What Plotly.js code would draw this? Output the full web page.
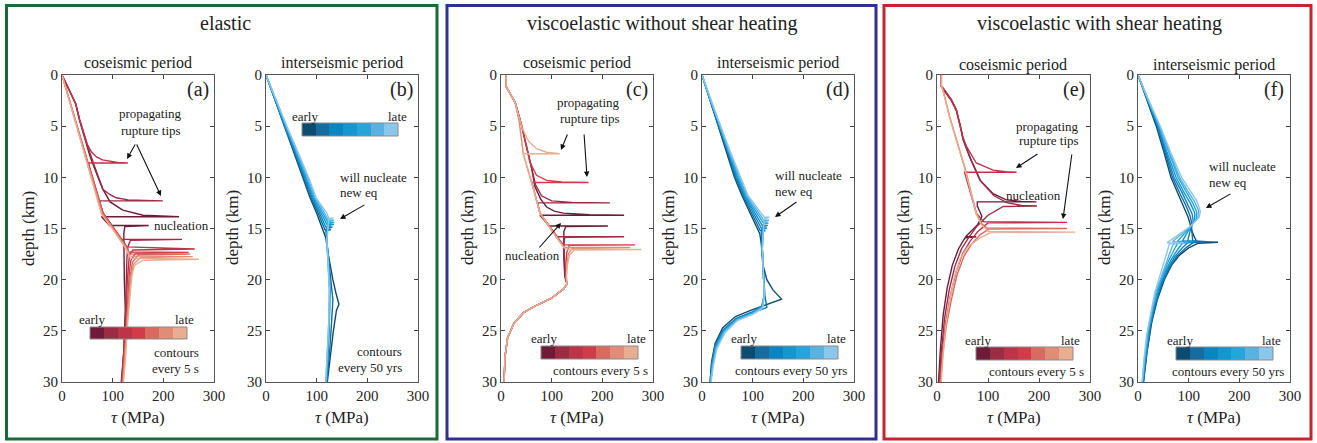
<!DOCTYPE html>
<html><head><meta charset="utf-8">
<script src="https://cdn.plot.ly/plotly-3.0.1.min.js"></script>
<style>html,body{margin:0;padding:0;background:#fff}#chart{width:1317px;height:443px}</style>
</head><body><div id="chart"></div>
<script>
// ---------------- colours ----------------
const REDS  = ['#6e1a38','#9b2c44','#bb3448','#d13c4a','#d96a5e','#e08c77','#e9ae92'];
const BLUES = ['#0d4c70','#176c9f','#0a85c4','#1496d0','#24a5dc','#5ab2e0','#8bc7ea'];

// ---------------- axes ticks ----------------
const tauTicks   = [0, 100, 200, 300];
const depthTicks = [0, 5, 10, 15, 20, 25, 30];

// ---------------- panel (a): elastic, coseismic ----------------
const aColor = [0, 1, 2, 3, 4, 5, 6];
const aTau = [
  [0,10,20,27,35,45,55,68,80,95,120,160,231,78,94,171,124,122,122,123,125,122,117],
  [0,10,20,27,35,45,55,64,73,81,95,107,130,160,199,73,81,96,117,237,135,130,128,127,125,121,118],
  [0,10,20,27,35,42,49,58,68,80,94,110,130,52,81,105,128,262,140,133,131,129,126,121,118],
  [0,81,105,128,131,250,145,136,133,131,128,122,119],
  [0,80,104,127,133,253,150,139,135,132,128,123,120],
  [0,79,103,126,134,258,155,141,136,133,129,124,121],
  [0,78,102,125,135,270,160,143,138,134,130,125,121]
];
const aDepth = [
  [0,1,2.1,2.8,4.5,6.2,7.9,9.6,11.1,12.4,13.2,13.7,13.85,13.85,14.7,14.7,14.8,15.5,18,20,23,27,30],
  [0,1,2.1,2.8,4.4,6.1,7.6,8.9,10.1,11.2,11.7,12.0,12.2,12.25,12.3,12.3,13.5,14.55,16.06,16.06,16.15,16.8,18,20,24,28,30],
  [0,1,2.1,2.8,4.4,5.6,6.7,7.5,8.0,8.3,8.45,8.55,8.6,8.6,13.5,15.15,16.8,17.0,17.1,17.6,18.5,20,24,28,30],
  [0,13.5,15.15,16.8,17.3,17.35,17.45,18.1,19.2,21,24,28,30],
  [0,13.5,15.15,16.8,17.5,17.5,17.6,18.3,19.5,21,24,28,30],
  [0,13.6,15.2,16.9,17.7,17.75,17.85,18.5,19.7,21.2,24,28,30],
  [0,13.6,15.2,16.9,17.9,18.0,18.1,18.6,19.6,21.5,24,28,30]
];

// ---------------- panel (b): elastic, interseismic ----------------
const bColor = [0, 1, 2, 3, 4, 5, 6];
const bTau = [
  [0,18,36,55,72,87,100,110,116,118,121,126,132,138,144,139,133,127,121],
  [0,18,37,56,74,89,102,111,116,128,118,120,124,128,132,129,125,120],
  [0,18,37,57,76,91,104,113,118,131,120,120,124,126,125,122,119],
  [0,19,38,58,78,93,106,115,120,134,121,120,124,126,125,122,119],
  [0,19,39,60,80,95,108,117,122,135,122,120,123,126,125,122,119],
  [0,20,40,61,82,97,110,118,123,134,123,120,123,125,124,121,118],
  [0,20,41,63,84,99,112,120,124,133,124,120,123,125,124,121,118]
];
const bDepth = [
  [0,2.5,5,7.5,10,12,13.5,14.8,15.5,15.9,17,18.5,20,21.3,22.4,23,25,27.5,30],
  [0,2.5,5,7.5,10,12,13.4,14.5,15.1,15.1,15.25,16.2,18,20,22,24.5,27.5,30],
  [0,2.5,5,7.5,10,12,13.3,14.3,14.85,14.85,15.0,16.2,18.5,21,24,27.5,30],
  [0,2.5,5,7.5,10,12,13.2,14.1,14.6,14.6,14.75,16.2,18.5,21,24,27.5,30],
  [0,2.5,5,7.5,10,12,13.1,13.9,14.4,14.4,14.55,16.2,18.5,21,24,27.5,30],
  [0,2.5,5,7.5,10,12,13.0,13.7,14.2,14.2,14.35,16.2,18.5,21,24,27.5,30],
  [0,2.5,5,7.5,10,12,12.9,13.5,14.0,14.0,14.15,16.2,18.5,21,24,27.5,30]
];

// ---------------- panel (c): viscoelastic w/o heating, coseismic ----------------
const cColor = [0, 1, 3, 5, 6];
const cTau = [
  [10,10,12,22,28,40,51,60,67,78,90,105,123,175,243,77,95,211,128,124,124,126,130,124,100,70,45,25,13,8,6],
  [10,10,12,22,28,40,51,60,68,80,100,140,215,72,77,110,243,126,124,125,127,130,124,100,70,45,25,13,8,6],
  [10,10,12,22,28,40,48,57,70,90,120,173,61,77,105,123,265,135,130,128,128,130,124,100,70,45,25,13,8,6],
  [10,10,12,22,28,36,44,60,77,100,122,128,255,140,133,130,129,130,124,100,70,45,25,13,8,6],
  [10,10,12,22,28,35,42,55,70,90,116,44,77,123,130,277,145,135,131,129,130,124,100,70,45,25,13,8,6]
];
const cDepth = [
  [0,1.1,1.3,2.1,2.7,4.8,7.0,9.0,10.9,12.1,12.9,13.3,13.5,13.65,13.7,13.7,14.75,14.75,14.8,15.3,18,19.7,20.4,20.9,21.8,22.5,23.2,24.3,25.7,27.5,30],
  [0,1.1,1.3,2.1,2.7,4.8,7.0,9.0,10.7,11.8,12.3,12.45,12.5,12.5,13.5,15.8,15.8,15.85,16.5,18,19.7,20.4,20.9,21.8,22.5,23.2,24.3,25.7,27.5,30],
  [0,1.1,1.3,2.1,2.7,4.8,6.5,8.5,9.8,10.3,10.45,10.5,10.5,13.5,15.4,16.6,16.6,16.65,17.3,18.5,19.7,20.4,20.9,21.8,22.5,23.2,24.3,25.7,27.5,30],
  [0,1.1,1.3,2.1,2.7,4.6,7.7,10.4,13.5,15.2,16.7,16.85,16.85,16.95,17.5,18.5,19.7,20.4,20.9,21.8,22.5,23.2,24.3,25.7,27.5,30],
  [0,1.1,1.3,2.1,2.7,4.0,5.2,6.5,7.2,7.55,7.7,7.7,13.5,16.8,17.05,17.05,17.1,17.6,18.6,19.7,20.4,20.9,21.8,22.5,23.2,24.3,25.7,27.5,30]
];

// ---------------- panel (d): viscoelastic w/o heating, interseismic ----------------
const dColor = [0, 1, 2, 3, 4, 5, 6];
const dTau = [
  [0,16,33,49,64,79,94,106,114,117,120,128,140,157,140,118,96,66,41,26,19,16],
  [0,16,33,50,66,81,96,108,115,125,117,119,121,124,128,119,97,67,42,26,19,16],
  [0,16,34,51,68,83,98,110,117,128,118,119,121,123,118,98,68,43,27,20,17],
  [0,17,34,52,70,85,100,112,119,130,120,119,121,123,118,98,68,43,27,20,17],
  [0,17,35,53,72,87,102,114,121,131,121,119,121,123,119,99,69,44,28,21,17],
  [0,17,36,54,74,89,104,116,122,132,122,119,121,123,119,99,69,44,28,21,17],
  [0,18,37,56,76,91,106,118,123,133,123,119,121,123,120,100,70,45,29,22,18]
];
const dDepth = [
  [0,2.5,5,7.5,10,11.8,13.4,14.7,15.5,16.5,18.5,20,21,21.9,22.2,22.6,23.0,23.6,24.7,26.2,28,30],
  [0,2.5,5,7.5,10,11.8,13.3,14.6,15.2,15.2,15.35,17,19.5,21.5,22.7,22.9,23.2,23.8,24.9,26.4,28.2,30],
  [0,2.5,5,7.5,10,11.8,13.2,14.4,14.95,14.95,15.1,17,19.5,21.5,22.6,23.2,23.8,24.9,26.4,28.2,30],
  [0,2.5,5,7.5,10,11.8,13.1,14.2,14.7,14.7,14.85,17,19.5,21.5,22.6,23.25,23.85,24.95,26.5,28.3,30],
  [0,2.5,5,7.5,10,11.8,13.0,14.0,14.45,14.45,14.6,17,19.5,21.5,22.7,23.3,23.9,25.0,26.6,28.4,30],
  [0,2.5,5,7.5,10,11.8,12.9,13.8,14.2,14.2,14.35,17,19.5,21.5,22.7,23.35,23.95,25.1,26.7,28.5,30],
  [0,2.5,5,7.5,10,11.8,12.8,13.5,13.9,13.9,14.05,17,19.5,21.5,22.8,23.4,24.0,25.2,26.8,28.5,30]
];

// ---------------- panel (e): viscoelastic with heating, coseismic ----------------
const eColor = [0, 1, 2, 4, 6];
const eTau = [
  [8.5,8.5,12,28,38,44.5,46,51,64,84,110,136,165,195,79,79,88,80,66,56,77,55,42,30,20,12,6.5,3],
  [8.5,8.5,12,28,38,44,47,53,66,86,112,138,166,196,130,100,78,62,48,35,24,15,8.5,4],
  [8.5,8.5,12,28,38,44.5,50,58,77,110,135,156,54,77,92,255,100,80,64,50,37,26,17,10,5.5],
  [8.5,8.5,12,25,56,77,87,98,255,102,85,68,53,39,28,18,11,6.5],
  [8.5,8.5,12,25,56,77,87,101,271,105,85,60,45,34,25,17,12,8.5]
];
const eDepth = [
  [0,1.1,1.3,2.4,3.4,4.7,5.0,6.3,8.0,10.25,11.6,12.2,12.35,12.4,12.4,12.8,13.8,14.6,15.3,15.8,15.8,15.9,17,18.6,20.8,23.5,26.9,30],
  [0,1.1,1.4,2.5,3.5,4.7,5.1,6.5,8.2,10.4,11.8,12.5,12.75,12.8,12.85,13.7,14.8,15.9,17.0,18.7,21.0,23.7,27,30],
  [0,1.1,1.3,2.4,3.4,4.7,6.0,7.0,8.6,9.3,9.45,9.5,9.5,13.5,14.35,14.4,14.45,15.3,16.3,17.5,19.3,21.6,24.2,27.2,30],
  [0,1.0,1.5,4.1,9.3,13.5,14.5,14.95,15.0,15.05,15.6,16.5,17.7,19.6,22,24.6,27.5,30],
  [0,1.0,1.6,4.2,9.4,13.6,14.6,15.3,15.35,15.4,15.9,16.8,18.0,19.8,22,24.6,27.3,30]
];

// ---------------- panel (f): viscoelastic with heating, interseismic ----------------
const fColor = [0, 1, 2, 3, 4, 5, 6];
const fTau = [
  [0,18,36,51,65,79,91,99,103,106,112,116,158,118,100,82,66,52,38,27,18,11],
  [0,19,38,53,68,83,95,103,106,106,108,135,108,94,77,62,48,35,25,17,10.5],
  [0,19,39,55,71,87,99,107,109,104,98,118,98,87,72,58,45,33,23,16,10],
  [0,20,40,57,75,91,104,112,112,103,88,108,88,79,66,54,42,31,22,15,9.5],
  [0,20,42,60,79,95,108,116,115,103,78,100,78,72,61,50,39,29,20,14,9],
  [0,21,43,62,82,99,112,120,118,103,68,95,70,65,56,46,36,27,19,13,8.5],
  [0,21,44,64,86,103,116,123,121,103,57,90,62,58,50,42,33,25,17,12,8]
];
const fDepth = [
  [0,2.5,5,7.5,10,11.6,12.9,13.9,14.6,15.2,15.9,16.3,16.35,16.45,16.9,17.6,18.6,20,22,24.2,27,30],
  [0,2.5,5,7.5,10,11.6,12.8,13.8,14.5,15.1,16.2,16.3,16.4,16.9,17.7,18.8,20.3,22.3,24.5,27.2,30],
  [0,2.5,5,7.5,10,11.5,12.7,13.6,14.3,15.0,16.2,16.3,16.4,16.9,17.8,19.0,20.5,22.5,24.7,27.3,30],
  [0,2.5,5,7.5,10,11.5,12.6,13.5,14.2,14.9,16.2,16.3,16.4,17.0,18.0,19.2,20.7,22.7,24.9,27.4,30],
  [0,2.5,5,7.5,10,11.4,12.5,13.4,14.1,14.85,16.25,16.35,16.45,17.0,18.1,19.4,20.9,22.9,25.0,27.5,30],
  [0,2.5,5,7.5,10,11.4,12.4,13.3,14.0,14.8,16.3,16.4,16.5,17.1,18.3,19.6,21.1,23.1,25.2,27.6,30],
  [0,2.5,5,7.5,10,11.3,12.3,13.3,13.9,14.8,16.4,16.4,16.5,17.2,18.4,19.8,21.3,23.3,25.4,27.7,30]
];

// ---------------- text ----------------
const groupTitles = ['elastic', 'viscoelastic without shear heating', 'viscoelastic with shear heating'];
const panelLetters = ['(a)', '(b)', '(c)', '(d)', '(e)', '(f)'];
const periodTitles = ['coseismic period', 'interseismic period'];

// ================= layout helpers =================
const W = 1317, H = 443;
const FONT = '"Liberation Serif", "Times New Roman", serif';
const TXT = '#222';
const fx = p => p / W;
const fy = p => 1 - p / H;

const panels = [
  {tau: aTau, dep: aDepth, col: aColor, pal: REDS,  x0: 62,   x1: 214,  cb: [90, 187, 327, 339]},
  {tau: bTau, dep: bDepth, col: bColor, pal: BLUES, x0: 266,  x1: 418,  cb: [302, 398, 123, 136]},
  {tau: cTau, dep: cDepth, col: cColor, pal: REDS,  x0: 501,  x1: 653,  cb: [541, 638, 346, 359]},
  {tau: dTau, dep: dDepth, col: dColor, pal: BLUES, x0: 702,  x1: 854,  cb: [741, 838, 346, 359]},
  {tau: eTau, dep: eDepth, col: eColor, pal: REDS,  x0: 937,  x1: 1090, cb: [976, 1073, 347, 360]},
  {tau: fTau, dep: fDepth, col: fColor, pal: BLUES, x0: 1138, x1: 1290, cb: [1176, 1273, 347, 360]}
];
const plotTop = 75, plotBot = 382;

const traces = [];
const layout = {
  width: W, height: H, margin: {l: 0, r: 0, t: 0, b: 0},
  paper_bgcolor: '#fff', plot_bgcolor: '#fff', showlegend: false,
  font: {family: FONT, color: TXT},
  shapes: [], annotations: []
};

panels.forEach((p, i) => {
  const n = i + 1, s = n === 1 ? '' : String(n);
  layout['xaxis' + s] = {
    domain: [fx(p.x0), fx(p.x1)], range: [0, 300], anchor: 'y' + s,
    tickvals: tauTicks, ticks: 'inside', ticklen: 4, tickcolor: '#444',
    mirror: 'ticks', showline: true, linecolor: '#555', linewidth: 1,
    showgrid: false, zeroline: false, fixedrange: true,
    tickfont: {family: FONT, size: 15, color: TXT}
  };
  layout['yaxis' + s] = {
    domain: [fy(plotBot), fy(plotTop)], range: [30, 0], anchor: 'x' + s,
    tickvals: depthTicks, ticks: 'inside', ticklen: 4, tickcolor: '#444',
    mirror: 'ticks', showline: true, linecolor: '#555', linewidth: 1,
    showgrid: false, zeroline: false, fixedrange: true,
    tickfont: {family: FONT, size: 15, color: TXT}
  };
  // lines: darker first so lighter (later) profiles lie on top
  for (let k = 0; k < p.tau.length; k++) {
    traces.push({
      type: 'scatter', mode: 'lines', x: p.tau[k], y: p.dep[k],
      xaxis: 'x' + s, yaxis: 'y' + s, hoverinfo: 'skip',
      line: {color: p.pal[p.col[k]], width: 1.4}
    });
  }
  // colour key
  const m = n + 6;
  const cs = [];
  p.pal.forEach((c, j) => { cs.push([j / p.pal.length, c]); cs.push([(j + 1) / p.pal.length, c]); });
  layout['xaxis' + m] = {domain: [fx(p.cb[0]), fx(p.cb[1])], range: [-0.5, p.pal.length - 0.5], anchor: 'y' + m, visible: false, fixedrange: true};
  layout['yaxis' + m] = {domain: [fy(p.cb[3]), fy(p.cb[2])], range: [-0.5, 0.5], anchor: 'x' + m, visible: false, fixedrange: true};
  traces.push({
    type: 'heatmap', z: [p.pal.map((c, j) => j)], xaxis: 'x' + m, yaxis: 'y' + m,
    colorscale: cs, zmin: -0.5, zmax: p.pal.length - 0.5, showscale: false, hoverinfo: 'skip'
  });
  layout.shapes.push({type: 'rect', xref: 'x' + m + ' domain', yref: 'y' + m + ' domain',
    x0: 0, x1: 1, y0: 0, y1: 1, line: {color: '#8a8a8a', width: 1}});

  // panel letter, period title, axis titles
  const cx = (p.x0 + p.x1) / 2;
  const ann = layout.annotations;
  ann.push({text: panelLetters[i], xref: 'paper', yref: 'paper', x: fx(p.x1 - 16), y: fy(89), showarrow: false,
    font: {size: 20, family: FONT, color: TXT}, xanchor: 'center', yanchor: 'middle'});
  ann.push({text: periodTitles[i % 2], xref: 'paper', yref: 'paper', x: fx(cx - 0.5), y: fy(i >= 4 ? 65 : 63), showarrow: false,
    font: {size: 16, family: FONT, color: TXT}, xanchor: 'center', yanchor: 'middle'});
  ann.push({text: 'depth (km)', xref: 'paper', yref: 'paper', x: fx(p.x0 - 34), y: fy(228), textangle: -90, showarrow: false,
    font: {size: 17, family: FONT, color: TXT}, xanchor: 'center', yanchor: 'middle'});
  ann.push({text: '<i>τ</i> (MPa)', xref: 'paper', yref: 'paper', x: fx(cx), y: fy(417), showarrow: false,
    font: {size: 17, family: FONT, color: TXT}, xanchor: 'center', yanchor: 'middle'});
});

// group frames & titles
const frames = [
  {x0: 6.5, x1: 437, color: '#1b6b38', title: groupTitles[0], cx: 225},
  {x0: 447, x1: 876, color: '#2e3192', title: groupTitles[1], cx: 662},
  {x0: 884, x1: 1311, color: '#c1272d', title: groupTitles[2], cx: 1099}
];
frames.forEach(f => {
  layout.shapes.push({type: 'rect', xref: 'paper', yref: 'paper', x0: fx(f.x0), x1: fx(f.x1), y0: fy(439), y1: fy(5.5),
    line: {color: f.color, width: 3}});
  layout.annotations.push({text: f.title, xref: 'paper', yref: 'paper', x: fx(f.cx), y: fy(23), showarrow: false,
    font: {size: 20, family: FONT, color: TXT}, xanchor: 'center', yanchor: 'middle'});
});

// free text labels  [text, px, py, anchor]
const labels = [
  ['propagating', 150, 114, 'center'], ['rupture tips', 151, 130, 'center'],
  ['nucleation', 181, 225, 'center'],
  ['early', 92, 319, 'center'], ['late', 184, 319, 'center'],
  ['contours', 201, 352, 'right'], ['every 5 s', 201, 368, 'right'],
  ['early', 305, 116, 'center'], ['late', 397, 116, 'center'],
  ['will nucleate', 338, 177, 'left'], ['new eq', 338, 193, 'left'],
  ['contours', 404, 351, 'right'], ['every 50 yrs', 404, 367, 'right'],
  ['propagating', 622, 102, 'right'], ['rupture tips', 622, 118, 'right'],
  ['nucleation', 532, 256, 'center'],
  ['early', 544, 338, 'center'], ['late', 636, 338, 'center'],
  ['contours every 5 s', 600, 370, 'center'],
  ['will nucleate', 773, 175, 'left'], ['new eq', 773, 191, 'left'],
  ['early', 744, 338, 'center'], ['late', 836, 338, 'center'],
  ['contours every 50 yrs', 791, 370, 'center'],
  ['propagating', 1081, 126, 'right'], ['rupture tips', 1081, 141, 'right'],
  ['nucleation', 1033, 195, 'center'],
  ['early', 978, 340, 'center'], ['late', 1070, 340, 'center'],
  ['contours every 5 s', 1036, 371, 'center'],
  ['will nucleate', 1207, 167, 'left'], ['new eq', 1207, 182, 'left'],
  ['early', 1180, 340, 'center'], ['late', 1271, 340, 'center'],
  ['contours every 50 yrs', 1228, 371, 'center']
];
labels.forEach(l => layout.annotations.push({text: l[0], xref: 'paper', yref: 'paper', x: fx(l[1]), y: fy(l[2]),
  xanchor: l[3], yanchor: 'middle', showarrow: false, font: {size: 13, family: FONT, color: TXT}}));

// arrows [tailX, tailY, headX, headY]
const arrows = [
  [136, 143, 127, 159], [136, 143, 161, 196], [366, 204, 340, 219],
  [568, 133, 561, 150], [584, 133, 587, 177], [538, 249, 561, 223], [798, 201, 775, 217],
  [1039, 153, 1016, 168], [1072, 153, 1063, 219], [1232, 193, 1206, 208]
];
arrows.forEach(a => layout.annotations.push({text: '', xref: 'paper', yref: 'paper', x: fx(a[2]), y: fy(a[3]),
  ax: a[0] - a[2], ay: a[1] - a[3], showarrow: true, arrowhead: 2, arrowsize: 1, arrowwidth: 1.1, arrowcolor: '#111'}));

Plotly.newPlot('chart', traces, layout, {staticPlot: true, displayModeBar: false});
</script></body></html>
